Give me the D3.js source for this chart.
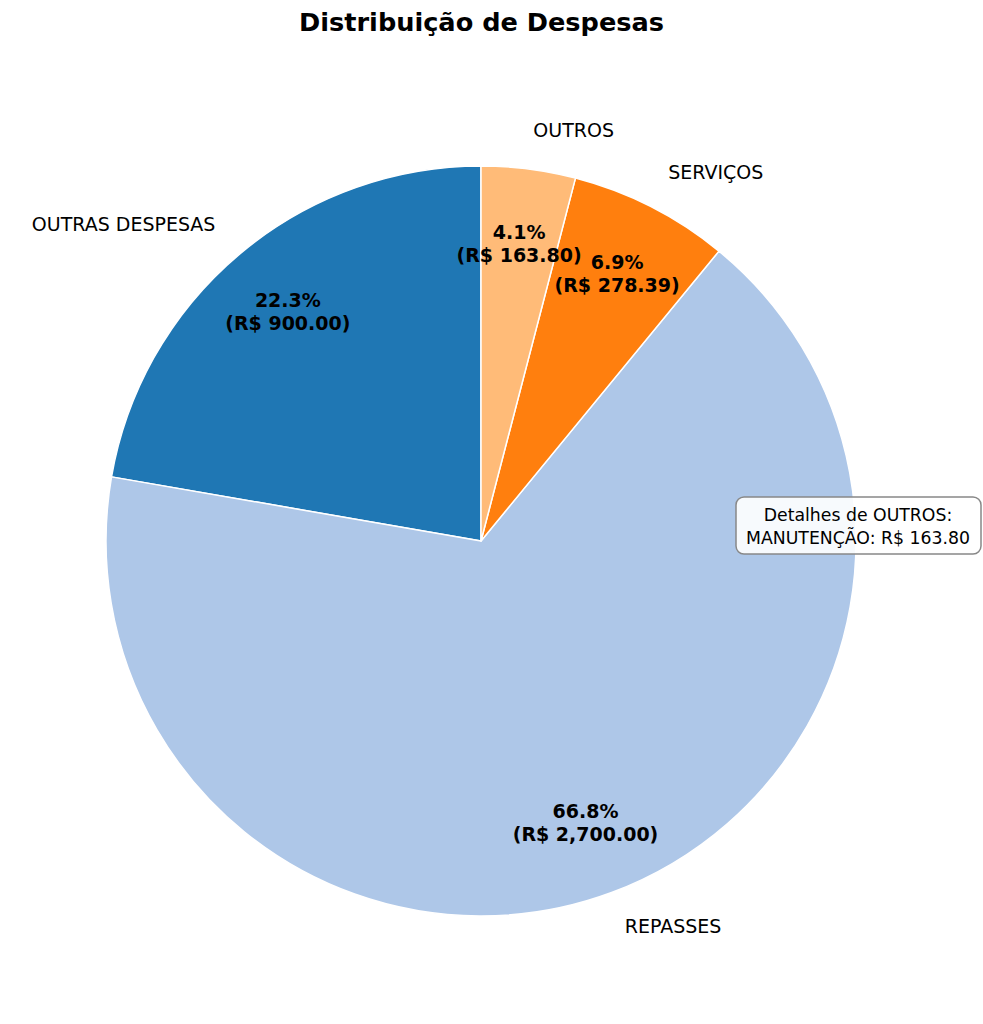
<!DOCTYPE html>
<html>
<head>
<meta charset="utf-8">
<script src="https://cdn.jsdelivr.net/npm/d3@7"></script>
<style>
  body { margin: 0; background: #fff; }
  text { font-family: "DejaVu Sans", sans-serif; }
</style>
</head>
<body>
<div id="chart"></div>
<script>
// data
var categories = ["OUTRAS DESPESAS", "REPASSES", "SERVIÇOS", "OUTROS"];
var values = [900.00, 2700.00, 278.39, 163.80];
var colors = ["#1f77b4", "#aec7e8", "#ff7f0e", "#ffbb78"];
var detailTitle = "Detalhes de OUTROS:";
var detailLines = ["MANUTENÇÃO: R$ 163.80"];

var width = 983, height = 1024;
var cx = 481, cy = 541, radius = 375;

var svg = d3.select("#chart")
  .append("svg")
    .attr("width", width)
    .attr("height", height);

svg.append("text")
  .attr("x", width / 2 - 10)
  .attr("y", 22)
  .attr("text-anchor", "middle")
  .attr("dominant-baseline", "central")
  .style("font-size", "25.6px")
  .style("font-weight", "bold")
  .text("Distribuição de Despesas");

var data = categories.map(function(c, i) { return {name: c, value: values[i], color: colors[i]}; });
var total = d3.sum(values);

// counterclockwise from the top, like matplotlib startangle=90
var pie = d3.pie()
  .sort(null)
  .value(d => d.value)
  .startAngle(0)
  .endAngle(-2 * Math.PI);

var arcs = pie(data);
var arc = d3.arc().innerRadius(0).outerRadius(radius);

var g = svg.append("g")
  .attr("transform", "translate(" + cx + "," + cy + ")");

g.selectAll("path")
  .data(arcs)
  .enter()
  .append("path")
    .attr("d", arc)
    .attr("fill", d => d.data.color)
    .attr("stroke", "#fff")
    .attr("stroke-width", 1.5)
    .attr("stroke-linejoin", "round");

var fmt = d3.format(",.2f");

function midAngle(d) { return (d.startAngle + d.endAngle) / 2; }

// category labels at 1.1 r
g.selectAll(".lbl")
  .data(arcs)
  .enter()
  .append("text")
    .attr("class", "lbl")
    .attr("x", d => Math.sin(midAngle(d)) * radius * 1.1)
    .attr("y", d => -Math.cos(midAngle(d)) * radius * 1.1 - 1.5)
    .attr("text-anchor", d => Math.sin(midAngle(d)) < 0 ? "end" : "start")
    .attr("dominant-baseline", "central")
    .style("font-size", "19px")
    .text(d => d.data.name);

// pct labels at 0.8 r
var pct = g.selectAll(".pct")
  .data(arcs)
  .enter()
  .append("text")
    .attr("class", "pct")
    .attr("text-anchor", "middle")
    .style("font-size", "19px")
    .style("font-weight", "bold")
    .attr("transform", d => "translate(" + (Math.sin(midAngle(d)) * radius * 0.8) + "," + (-Math.cos(midAngle(d)) * radius * 0.8) + ")");

pct.append("tspan")
  .attr("x", 0)
  .attr("y", -11.5)
  .attr("dominant-baseline", "central")
  .text(d => (d.value / total * 100).toFixed(1) + "%");
pct.append("tspan")
  .attr("x", 0)
  .attr("y", 11.5)
  .attr("dominant-baseline", "central")
  .text(d => "(R$ " + fmt(d.value) + ")");

// annotation box
var box = svg.append("g").attr("transform", "translate(858,526)");
box.append("rect")
  .attr("x", -122)
  .attr("y", -29)
  .attr("width", 245)
  .attr("height", 57)
  .attr("rx", 8)
  .attr("fill", "#fff")
  .attr("fill-opacity", 0.9)
  .attr("stroke", "#888")
  .attr("stroke-width", 1.5);

var bt = box.append("text")
  .attr("text-anchor", "middle")
  .style("font-size", "17.3px");
[detailTitle].concat(detailLines).forEach(function(line, i, arr) {
  bt.append("tspan")
    .attr("x", 0)
    .attr("y", (i - (arr.length - 1) / 2) * 23)
    .attr("dominant-baseline", "central")
    .text(line);
});
</script>
</body>
</html>
